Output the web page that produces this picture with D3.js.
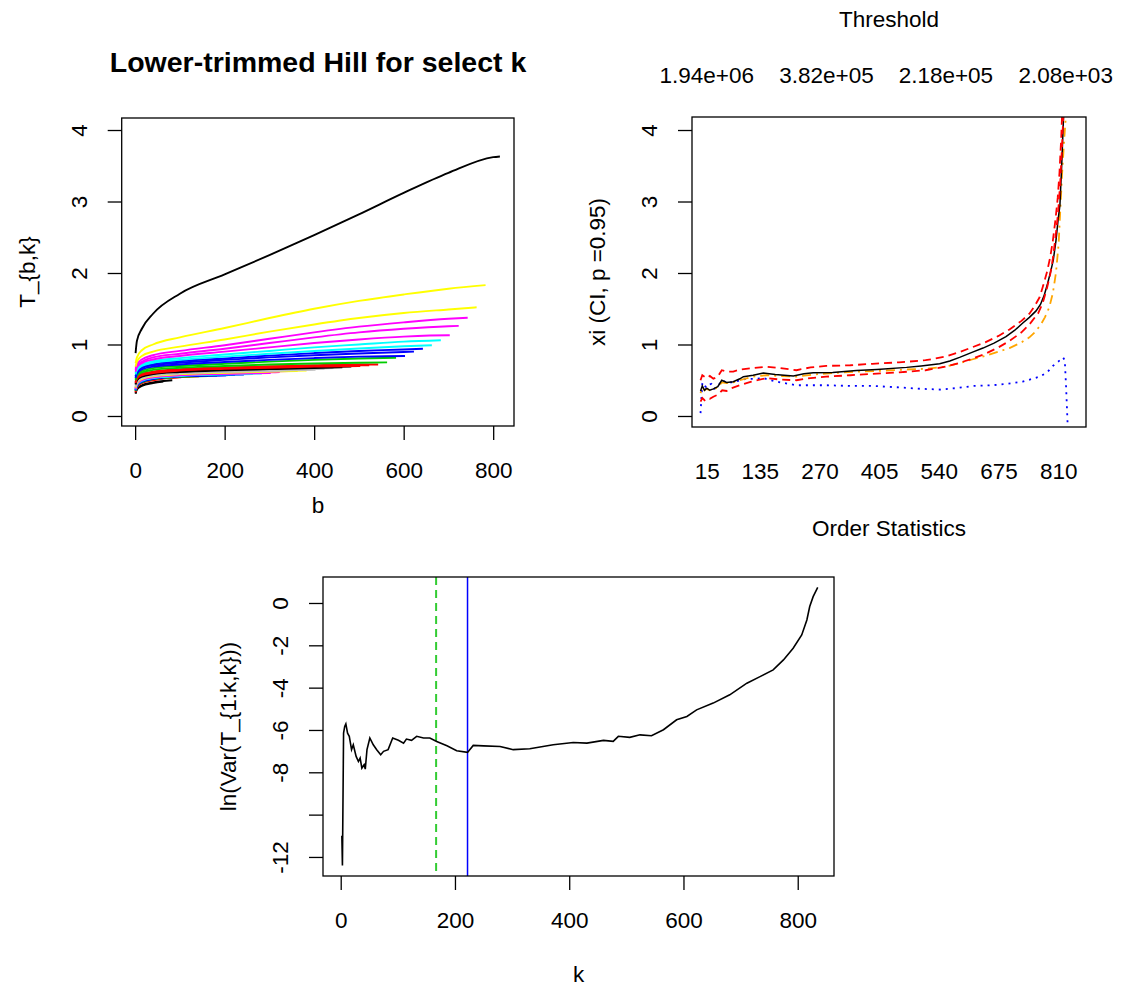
<!DOCTYPE html>
<html>
<head>
<meta charset="utf-8">
<script src="https://cdn.jsdelivr.net/npm/d3@7"></script>
<style>
  body { margin: 0; background: #fff; }
  text { font-family: "Liberation Sans", Arial, Helvetica, sans-serif; fill: #000; }
</style>
</head>
<body>
<svg id="chart" width="1122" height="988"></svg>
<script>
// ---------- Panel 1: lower-trimmed Hill T_{b,k} for a selection of k ----------
const B_GRID = [1, 4, 15, 40, 100, 200, 300, 400, 500, 600, 700, 800];
const SELECT_K = [63, 83, 103, 123, 143, 163, 183, 203, 223, 243, 263, 283, 303, 323, 343,
  363, 383, 403, 423, 443, 463, 483, 503, 523, 543, 563, 583, 603, 623, 643, 663, 683,
  703, 723, 743, 763, 783, 815];
const SELECT_COLOR = ["black", "black", "red", "red", "red", "green3", "green3", "blue", "blue",
  "blue", "cyan", "cyan", "magenta", "magenta", "magenta", "yellow", "yellow", "gray", "gray",
  "gray", "black", "black", "red", "red", "red", "green3", "green3", "blue", "blue", "blue",
  "cyan", "cyan", "magenta", "magenta", "magenta", "yellow", "yellow", "black"];
// values at the B_GRID points below k, followed by the value at b = k
const T_BK = [
  [0.31, 0.37, 0.42, 0.46, 0.48],
  [0.32, 0.38, 0.43, 0.47, 0.50],
  [0.33, 0.40, 0.46, 0.50, 0.54, 0.54],
  [0.34, 0.41, 0.47, 0.51, 0.545, 0.55],
  [0.34, 0.41, 0.47, 0.51, 0.545, 0.555],
  [0.35, 0.42, 0.47, 0.515, 0.55, 0.56],
  [0.35, 0.42, 0.48, 0.52, 0.55, 0.565],
  [0.36, 0.42, 0.48, 0.52, 0.555, 0.57, 0.57],
  [0.36, 0.43, 0.48, 0.52, 0.555, 0.57, 0.575],
  [0.37, 0.43, 0.49, 0.525, 0.56, 0.575, 0.58],
  [0.37, 0.44, 0.49, 0.53, 0.56, 0.58, 0.585],
  [0.38, 0.44, 0.50, 0.535, 0.565, 0.585, 0.595],
  [0.38, 0.45, 0.50, 0.54, 0.57, 0.59, 0.60, 0.60],
  [0.39, 0.45, 0.51, 0.545, 0.575, 0.595, 0.61, 0.615],
  [0.39, 0.46, 0.51, 0.55, 0.58, 0.60, 0.62, 0.63],
  [0.40, 0.46, 0.52, 0.555, 0.585, 0.605, 0.62, 0.63],
  [0.40, 0.47, 0.52, 0.56, 0.59, 0.61, 0.625, 0.635],
  [0.41, 0.47, 0.53, 0.565, 0.595, 0.615, 0.63, 0.645, 0.645],
  [0.42, 0.48, 0.535, 0.57, 0.60, 0.62, 0.64, 0.655, 0.66],
  [0.43, 0.49, 0.54, 0.575, 0.605, 0.63, 0.645, 0.66, 0.67],
  [0.44, 0.50, 0.55, 0.585, 0.615, 0.64, 0.655, 0.67, 0.68],
  [0.45, 0.51, 0.56, 0.595, 0.625, 0.65, 0.665, 0.68, 0.69],
  [0.46, 0.52, 0.57, 0.60, 0.635, 0.66, 0.675, 0.69, 0.70, 0.70],
  [0.47, 0.53, 0.58, 0.61, 0.645, 0.67, 0.685, 0.70, 0.71, 0.71],
  [0.48, 0.54, 0.59, 0.62, 0.655, 0.68, 0.695, 0.71, 0.72, 0.72],
  [0.50, 0.56, 0.61, 0.645, 0.675, 0.70, 0.72, 0.735, 0.745, 0.75],
  [0.52, 0.58, 0.63, 0.67, 0.70, 0.73, 0.76, 0.785, 0.805, 0.815],
  [0.53, 0.59, 0.65, 0.69, 0.72, 0.755, 0.785, 0.81, 0.83, 0.84, 0.84],
  [0.55, 0.61, 0.67, 0.71, 0.745, 0.785, 0.82, 0.85, 0.875, 0.895, 0.90],
  [0.56, 0.62, 0.68, 0.725, 0.765, 0.805, 0.845, 0.88, 0.91, 0.93, 0.94],
  [0.58, 0.64, 0.70, 0.745, 0.785, 0.83, 0.87, 0.91, 0.945, 0.975, 0.99],
  [0.60, 0.66, 0.72, 0.765, 0.81, 0.86, 0.91, 0.96, 1.00, 1.04, 1.06],
  [0.62, 0.68, 0.74, 0.79, 0.84, 0.90, 0.96, 1.02, 1.07, 1.11, 1.13, 1.13],
  [0.64, 0.70, 0.76, 0.82, 0.87, 0.94, 1.02, 1.10, 1.17, 1.22, 1.255, 1.26],
  [0.66, 0.72, 0.79, 0.85, 0.91, 0.99, 1.08, 1.17, 1.25, 1.31, 1.36, 1.375],
  [0.69, 0.76, 0.84, 0.90, 0.97, 1.07, 1.18, 1.28, 1.37, 1.44, 1.49, 1.52],
  [0.74, 0.82, 0.92, 1.00, 1.10, 1.23, 1.37, 1.50, 1.61, 1.70, 1.78, 1.83],
  [0.88, 1.05, 1.22, 1.43, 1.71, 1.98, 2.25, 2.53, 2.82, 3.12, 3.40, 3.62, 3.63]
];
const P1_X_TICKS = [0, 200, 400, 600, 800];
const P1_Y_TICKS = [0, 1, 2, 3, 4];

// ---------- Panel 2: Hill plot of xi with confidence band ----------
const XI_K = [1, 5, 10, 15, 22, 30, 40, 49, 60, 75, 90, 98, 120, 143, 170, 190, 211, 235, 256,
  300, 354, 400, 467, 500, 542, 565, 587, 615, 640, 665, 692, 712, 730, 745, 760, 770, 778,
  786, 793, 799, 805, 810, 814, 818, 821, 825];
const XI_EST = [0.35, 0.42, 0.36, 0.39, 0.36, 0.38, 0.41, 0.50, 0.47, 0.48, 0.52, 0.55, 0.57,
  0.60, 0.58, 0.57, 0.56, 0.59, 0.605, 0.61, 0.635, 0.65, 0.68, 0.70, 0.73, 0.77, 0.82, 0.89,
  0.95, 1.02, 1.11, 1.20, 1.30, 1.38, 1.47, 1.56, 1.68, 1.85, 2.02, 2.18, 2.45, 2.75, 2.95,
  3.50, 4.00, 4.60];
const CI_UP_K = [1, 5, 10, 15, 22, 30, 40, 49, 60, 75, 90, 120, 150, 180, 218, 250, 285, 340,
  390, 450, 510, 555, 585, 615, 645, 675, 700, 727, 745, 757, 768, 776, 785, 792, 798, 804,
  809, 813, 817, 820];
const CI_UP = [0.50, 0.57, 0.55, 0.53, 0.56, 0.52, 0.55, 0.64, 0.62, 0.62, 0.65, 0.67, 0.69,
  0.67, 0.64, 0.68, 0.70, 0.71, 0.73, 0.75, 0.78, 0.83, 0.89, 0.96, 1.03, 1.12, 1.21, 1.33,
  1.43, 1.54, 1.66, 1.82, 2.02, 2.22, 2.45, 2.75, 3.05, 3.40, 3.90, 4.40];
const CI_LO_K = [1, 5, 10, 15, 22, 30, 41, 50, 60, 71, 90, 116, 150, 180, 218, 250, 285, 340,
  390, 450, 510, 555, 585, 615, 645, 675, 700, 727, 745, 765, 775, 784, 792, 798, 804, 810,
  815, 819, 823];
const CI_LO = [0.20, 0.25, 0.22, 0.25, 0.24, 0.27, 0.30, 0.36, 0.35, 0.39, 0.43, 0.48, 0.53,
  0.51, 0.50, 0.53, 0.55, 0.57, 0.59, 0.61, 0.64, 0.69, 0.74, 0.80, 0.87, 0.96, 1.05, 1.17,
  1.28, 1.44, 1.58, 1.77, 1.98, 2.20, 2.50, 2.85, 3.30, 3.80, 4.40];
const ALT_K = [1, 5, 10, 15, 22, 30, 40, 49, 60, 75, 90, 120, 150, 180, 218, 256, 300, 354,
  400, 467, 510, 555, 587, 615, 645, 675, 700, 727, 745, 757, 770, 780, 790, 798, 805, 811,
  815, 819, 824, 830];
const ALT_EST = [0.32, 0.40, 0.36, 0.38, 0.36, 0.37, 0.40, 0.47, 0.46, 0.47, 0.50, 0.55, 0.57,
  0.56, 0.55, 0.58, 0.60, 0.62, 0.63, 0.65, 0.66, 0.69, 0.74, 0.79, 0.84, 0.90, 0.95, 1.03,
  1.10, 1.17, 1.27, 1.38, 1.52, 1.72, 2.00, 2.40, 2.90, 3.40, 3.90, 4.40];
const DOT_K = [1, 5, 7, 10, 15, 20, 26, 32, 37, 43, 49, 60, 75, 90, 105, 125, 143, 160, 181,
  200, 218, 250, 286, 340, 392, 450, 500, 543, 580, 618, 660, 693, 730, 768, 785, 798, 812,
  821, 825, 828, 834];
const DOT_EST = [0.04, 0.45, 0.47, 0.42, 0.40, 0.44, 0.45, 0.38, 0.40, 0.44, 0.50, 0.47, 0.47,
  0.50, 0.52, 0.52, 0.53, 0.50, 0.47, 0.45, 0.43, 0.43, 0.43, 0.42, 0.42, 0.40, 0.38, 0.37,
  0.39, 0.42, 0.43, 0.45, 0.48, 0.55, 0.61, 0.70, 0.77, 0.82, 0.78, 0.40, -0.50];
const P2_Y_TICKS = [0, 1, 2, 3, 4];
const OS_TICKS = [15, 135, 270, 405, 540, 675, 810];
const THRESH_AT = [15, 286, 556, 827];
const THRESH_LABELS = ["1.94e+06", "3.82e+05", "2.18e+05", "2.08e+03"];

// ---------- Panel 3: log variance of the trimmed statistics ----------
const VAR_K = [2, 3, 5, 7, 9, 12, 15, 19, 22, 27, 31, 34, 37, 41, 43, 46, 51, 57, 63, 70, 75,
  83, 91, 101, 110, 115, 124, 133, 145, 156, 168, 186, 203, 222, 232, 250, 279, 302, 331, 372,
  407, 431, 460, 477, 486, 506, 524, 544, 565, 588, 606, 623, 652, 681, 711, 734, 757, 775,
  792, 807, 816, 821, 827, 835];
const VAR_LN = [-11.0, -12.4, -6.15, -5.83, -5.71, -6.15, -6.30, -6.93, -6.70, -7.25, -7.49,
  -7.33, -7.80, -7.64, -7.85, -6.93, -6.38, -6.70, -6.93, -7.17, -7.01, -6.93, -6.38, -6.49,
  -6.62, -6.43, -6.49, -6.30, -6.38, -6.38, -6.54, -6.75, -6.98, -7.06, -6.73, -6.75, -6.78,
  -6.93, -6.89, -6.70, -6.59, -6.62, -6.49, -6.54, -6.30, -6.35, -6.23, -6.27, -5.99, -5.52,
  -5.36, -5.05, -4.73, -4.34, -3.79, -3.48, -3.16, -2.69, -2.14, -1.51, -0.80, -0.17, 0.30,
  0.74];
const K_DASHED = 167;
const K_CHOSEN = 222;
const P3_X_TICKS = [0, 200, 400, 600, 800];
const P3_Y_TICKS = [-12, -10, -8, -6, -4, -2, 0];
const P3_Y_LABELED = [-12, -8, -6, -4, -2, 0];

const PALETTE = {
  black: "#000000", red: "#FF0000", green3: "#00CD00", blue: "#0000FF",
  cyan: "#00FFFF", magenta: "#FF00FF", yellow: "#FFFF00", gray: "#BEBEBE"
};

const FS = 22.5;
const svg = d3.select("#chart");

function makePanel(id, box, xDom, yDom) {
  const x = d3.scaleLinear().domain(xDom).range([box.l, box.r]);
  const y = d3.scaleLinear().domain(yDom).range([box.b, box.t]);
  svg.append("clipPath").attr("id", id)
    .append("rect").attr("x", box.l).attr("y", box.t)
    .attr("width", box.r - box.l).attr("height", box.b - box.t);
  const plot = svg.append("g").attr("clip-path", `url(#${id})`);
  return { x, y, box, plot };
}

function drawBox(p) {
  svg.append("rect").attr("x", p.box.l).attr("y", p.box.t)
    .attr("width", p.box.r - p.box.l).attr("height", p.box.b - p.box.t)
    .attr("fill", "none").attr("stroke", "#000").attr("stroke-width", 1.3);
}

function xAxis(p, ticks, labels, showTicks) {
  const ax = d3.axisBottom(p.x).tickValues(ticks)
    .tickSize(showTicks ? 14 : 0)
    .tickFormat((d, i) => labels ? labels[i] : String(d));
  const g = svg.append("g").attr("transform", `translate(0,${p.box.b})`).call(ax);
  g.select(".domain").remove();
  g.selectAll(".tick line").attr("stroke", "#000").attr("stroke-width", 1.3);
  g.selectAll(".tick text").attr("y", 52).attr("dy", null)
    .attr("font-size", FS).attr("fill", "#000")
    .style("font-family", '"Liberation Sans", Arial, sans-serif');
  return g;
}

function yAxis(p, ticks, labeled) {
  const ax = d3.axisLeft(p.y).tickValues(ticks).tickSize(14)
    .tickFormat(d => (labeled && !labeled.includes(d)) ? "" : String(d).replace("-", "-"));
  const g = svg.append("g").attr("transform", `translate(${p.box.l},0)`).call(ax);
  g.select(".domain").remove();
  g.selectAll(".tick line").attr("stroke", "#000").attr("stroke-width", 1.3);
  g.selectAll(".tick text")
    .attr("x", 0).attr("y", -35).attr("dy", null)
    .attr("transform", "rotate(-90)")
    .attr("text-anchor", "middle")
    .attr("font-size", FS).attr("fill", "#000")
    .style("font-family", '"Liberation Sans", Arial, sans-serif');
}

function label(txt, x, y, opts = {}) {
  const t = svg.append("text").attr("text-anchor", "middle")
    .attr("font-size", opts.size || FS).text(txt);
  if (opts.bold) t.attr("font-weight", "bold");
  if (opts.rotate) t.attr("transform", `translate(${x},${y}) rotate(-90)`);
  else t.attr("x", x).attr("y", y);
  return t;
}

// ---------- Panel 1 ----------
const p1 = makePanel("clip1", { l: 121.7, r: 514, t: 118, b: 426 }, [-30, 846.5], [-0.14, 4.168]);
const line1 = d3.line().x(d => p1.x(d[0])).y(d => p1.y(d[1])).curve(d3.curveMonotoneX);
SELECT_K.forEach((k, i) => {
  const grid = B_GRID.filter(b => b < k);
  const pts = grid.map((b, j) => [b, T_BK[i][j]]);
  pts.push([k, T_BK[i][grid.length]]);
  p1.plot.append("path").datum(pts)
    .attr("d", line1).attr("fill", "none")
    .attr("stroke", PALETTE[SELECT_COLOR[i]]).attr("stroke-width", 1.9);
});
drawBox(p1);
xAxis(p1, P1_X_TICKS, null, true);
yAxis(p1, P1_Y_TICKS);
label("Lower-trimmed Hill for select k", 318, 72, { bold: true, size: 28.5 });
label("b", 318, 513);
label("T_{b,k}", 35, 272, { rotate: true });

// ---------- Panel 2 ----------
const p2 = makePanel("clip2", { l: 692, r: 1086, t: 117, b: 427 }, [-18.3, 873], [-0.154, 4.182]);
const line2 = d3.line().x(d => p2.x(d[0])).y(d => p2.y(d[1]));
function series2(ks, vs, color, width, dash) {
  const path = p2.plot.append("path").datum(ks.map((k, i) => [k, vs[i]]))
    .attr("d", line2).attr("fill", "none")
    .attr("stroke", color).attr("stroke-width", width);
  if (dash) path.attr("stroke-dasharray", dash);
}
series2(DOT_K, DOT_EST, "#0000FF", 1.8, "2,5");
series2(ALT_K, ALT_EST, "#FFA500", 1.8, "2,5,9,5");
series2(XI_K, XI_EST, "#000000", 1.5);
series2(CI_UP_K, CI_UP, "#FF0000", 1.8, "8,5");
series2(CI_LO_K, CI_LO, "#FF0000", 1.8, "8,5");
drawBox(p2);
yAxis(p2, P2_Y_TICKS);
xAxis(p2, OS_TICKS, null, false);
// threshold values along the top edge
THRESH_AT.forEach((k, i) => {
  svg.append("text").attr("x", p2.x(k)).attr("y", 83).attr("text-anchor", "middle")
    .attr("font-size", FS).text(THRESH_LABELS[i]);
});
label("Threshold", 889, 27);
label("Order Statistics", 889, 536);
label("xi (CI, p =0.95)", 605, 272, { rotate: true });

// ---------- Panel 3 ----------
const p3 = makePanel("clip3", { l: 323, r: 834, t: 577, b: 876 }, [-31, 863.5], [-12.9, 1.228]);
p3.plot.append("line")
  .attr("x1", p3.x(K_DASHED)).attr("x2", p3.x(K_DASHED))
  .attr("y1", p3.box.t).attr("y2", p3.box.b)
  .attr("stroke", "#33CC33").attr("stroke-width", 2).attr("stroke-dasharray", "8,5");
p3.plot.append("line")
  .attr("x1", p3.x(K_CHOSEN)).attr("x2", p3.x(K_CHOSEN))
  .attr("y1", p3.box.t).attr("y2", p3.box.b)
  .attr("stroke", "#0000FF").attr("stroke-width", 1.5);
p3.plot.append("path").datum(VAR_K.map((k, i) => [k, VAR_LN[i]]))
  .attr("d", d3.line().x(d => p3.x(d[0])).y(d => p3.y(d[1])))
  .attr("fill", "none").attr("stroke", "#000").attr("stroke-width", 1.6);
drawBox(p3);
xAxis(p3, P3_X_TICKS, null, true);
yAxis(p3, P3_Y_TICKS, P3_Y_LABELED);
label("k", 578.5, 982);
label("ln(Var(T_{1:k,k}))", 236, 726.5, { rotate: true });
</script>
</body>
</html>
